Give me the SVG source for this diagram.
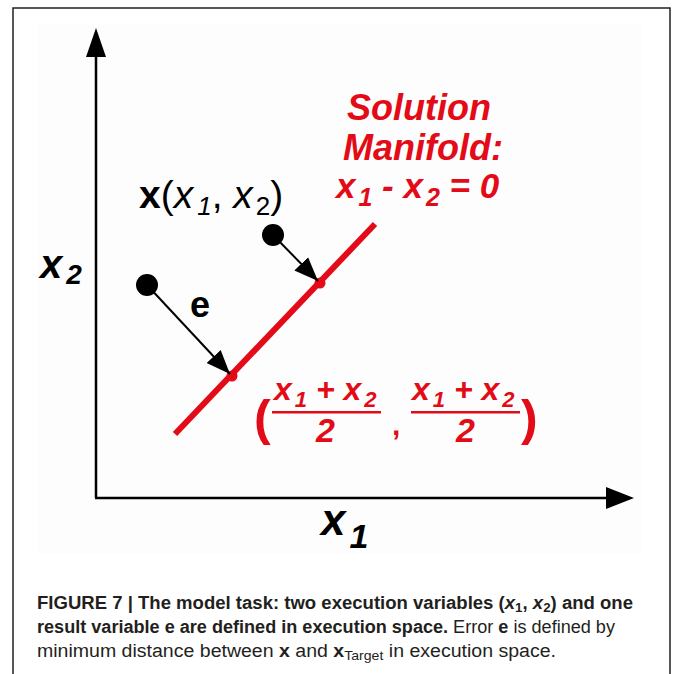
<svg xmlns="http://www.w3.org/2000/svg" width="673" height="674" viewBox="0 0 673 674">
<style>
.red{fill:#e30b17}
.bi{font-family:"Liberation Sans",Arial,sans-serif;font-weight:bold;font-style:italic}
.b{font-family:"Liberation Sans",Arial,sans-serif;font-weight:bold}
.r{font-family:"Liberation Sans",Arial,sans-serif}
.cap{font-family:"Liberation Sans",Arial,sans-serif;font-size:18px;fill:#231f20}
</style>
<defs>
<marker id="ahb" viewBox="0 0 10 10" refX="10" refY="5" markerWidth="24" markerHeight="24" markerUnits="userSpaceOnUse" orient="auto">
<path d="M0,1 L10,5 L0,9 Z" fill="#000"/>
</marker>
</defs>
<rect width="673" height="674" fill="#fff"/>
<path d="M13,674 V8 H670 V674" fill="none" stroke="#231f20" stroke-width="1.5"/>
<rect x="37" y="24" width="604" height="530" fill="#fdfdfd"/>

<g id="axes">
<line x1="96" y1="498" x2="96" y2="50" stroke="#000" stroke-width="2.5"/>
<path d="M86,57 L106,57 L96,28 Z" fill="#000"/>
<line x1="95" y1="498" x2="610" y2="498" stroke="#000" stroke-width="2.5"/>
<path d="M606,487 L606,509 L634,498 Z" fill="#000"/>
</g>

<g id="axis-labels">
<text class="bi" x="40" y="278" font-size="40">x<tspan font-size="28" dx="4" dy="6">2</tspan></text>
<text class="bi" x="321" y="535" font-size="44">x<tspan font-size="34" dx="4" dy="13">1</tspan></text>
</g>

<g id="manifold">
<line x1="175" y1="434" x2="375" y2="224" stroke="#e30b17" stroke-width="6"/>
<circle cx="232" cy="376" r="5.5" fill="#e30b17"/>
<circle cx="320" cy="283" r="5.5" fill="#e30b17"/>
</g>

<g id="manifold-label">
<text class="bi red" x="347" y="120" font-size="36">Solution</text>
<text class="bi red" x="343" y="160" font-size="36">Manifold:</text>
<text class="bi red" x="336" y="198" font-size="35">x<tspan font-size="25" dx="3" dy="8">1</tspan><tspan dy="-8"> - x</tspan><tspan font-size="25" dx="3" dy="8">2</tspan><tspan dy="-8"> = 0</tspan></text>
</g>

<g id="points">
<circle cx="147" cy="285" r="11" fill="#000"/>
<circle cx="273" cy="235" r="11" fill="#000"/>
</g>

<g id="connectors">
<line x1="147" y1="285" x2="230" y2="374" stroke="#000" stroke-width="2" marker-end="url(#ahb)"/>
<line x1="273" y1="235" x2="318" y2="281" stroke="#000" stroke-width="2" marker-end="url(#ahb)"/>
</g>

<g id="x-label">
<text class="r" x="139" y="208" font-size="39"><tspan class="b">x</tspan>(<tspan font-style="italic">x</tspan><tspan font-style="italic" font-size="26" dx="4" dy="7">1</tspan><tspan dy="-7">, </tspan><tspan font-style="italic">x</tspan><tspan font-size="26" dx="3" dy="7">2</tspan><tspan dy="-7">)</tspan></text>
</g>

<g id="e-label">
<text class="b" x="190" y="317" font-size="36">e</text>
</g>

<g id="midpoint-label">
<text class="b red" x="254" y="435" font-size="50">(</text>
<text class="bi red" x="274" y="400" font-size="32">x<tspan font-size="22" dx="3" dy="7">1</tspan><tspan dy="-7"> + x</tspan><tspan font-size="22" dx="3" dy="7">2</tspan></text>
<rect x="272" y="411" width="109" height="2.5" fill="#e30b17"/>
<text class="bi red" x="316" y="442" font-size="34">2</text>
<text class="b red" x="392" y="435" font-size="30">,</text>
<text class="bi red" x="412" y="400" font-size="32">x<tspan font-size="22" dx="3" dy="7">1</tspan><tspan dy="-7"> + x</tspan><tspan font-size="22" dx="3" dy="7">2</tspan></text>
<rect x="411" y="411" width="109" height="2.5" fill="#e30b17"/>
<text class="bi red" x="456" y="442" font-size="34">2</text>
<text class="b red" x="521" y="435" font-size="50">)</text>
</g>

<g id="caption">
<text class="cap" font-weight="bold" x="37" y="609" textLength="596" lengthAdjust="spacingAndGlyphs">FIGURE 7 | The model task: two execution variables (<tspan font-style="italic">x</tspan><tspan font-size="13" dy="3">1</tspan><tspan dy="-3">, </tspan><tspan font-style="italic">x</tspan><tspan font-size="13" dy="3">2</tspan><tspan dy="-3">) and one</tspan></text>
<text class="cap" x="37" y="633" textLength="578" lengthAdjust="spacingAndGlyphs"><tspan font-weight="bold">result variable e are defined in execution space.</tspan> Error <tspan font-weight="bold">e</tspan> is defined by</text>
<text class="cap" x="37" y="657" textLength="519" lengthAdjust="spacingAndGlyphs">minimum distance between <tspan font-weight="bold">x</tspan> and <tspan font-weight="bold">x</tspan><tspan font-size="13" dy="3">Target</tspan><tspan dy="-3"> in execution space.</tspan></text>
</g>
</svg>
